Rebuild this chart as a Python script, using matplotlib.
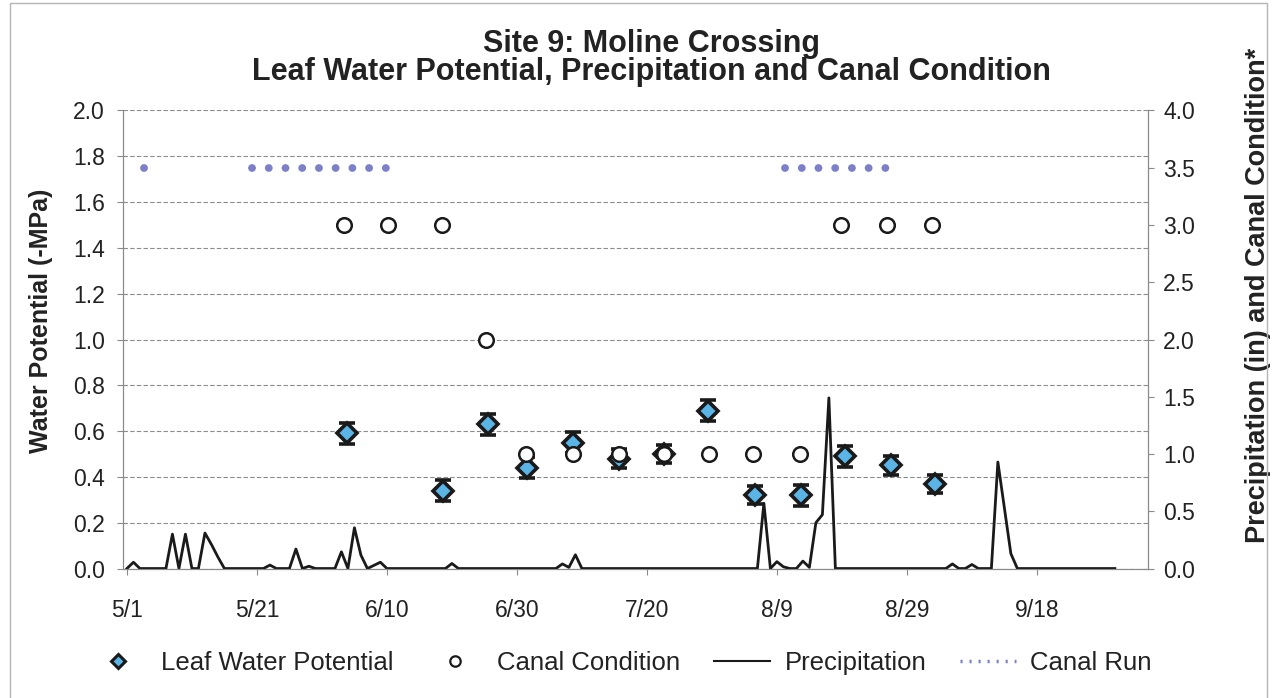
import matplotlib
matplotlib.use('Agg')
import matplotlib.pyplot as plt
from matplotlib.lines import Line2D
from matplotlib.patches import Rectangle

plt.rcParams['font.family'] = ['Liberation Sans', 'DejaVu Sans']

# x positions are days after 5/1
tick_days = [0, 20, 40, 60, 80, 100, 120, 140]
tick_labels = ['5/1', '5/21', '6/10', '6/30', '7/20', '8/9', '8/29', '9/18']

# leaf water potential (-MPa), left axis
lwp_days = [33.8, 48.7, 55.6, 61.6, 68.6, 75.7, 82.6, 89.4, 96.6, 103.7, 110.5, 117.5, 124.3]
lwp = [0.59, 0.34, 0.63, 0.44, 0.55, 0.48, 0.50, 0.69, 0.32, 0.32, 0.49, 0.45, 0.37]
lwp_err = [0.045, 0.045, 0.045, 0.045, 0.045, 0.04, 0.04, 0.045, 0.04, 0.045, 0.045, 0.04, 0.04]

# canal condition, right axis
canal_days = [33.4, 40.2, 48.5, 55.3, 61.4, 68.7, 75.7, 82.6, 89.5, 96.4, 103.5, 109.9, 116.9, 123.9]
canal = [3, 3, 3, 2, 1, 1, 1, 1, 1, 1, 1, 3, 3, 3]

# precipitation (in), right axis
precip_days = [0, 1, 2, 6, 7, 8, 9, 10, 11, 12, 13, 14, 15, 21, 22, 23, 25, 26, 27, 28, 29,
               32, 33, 34, 35, 36, 37, 39, 40, 49, 50, 51, 66, 67, 68, 69, 70, 97, 98, 99,
               100, 101, 102, 103, 104, 105, 106, 107, 108, 109, 126, 127, 128, 129, 130, 131,
               133, 134, 135, 136, 137, 152]
precip_in = [0, 0.055, 0, 0, 0.30, 0, 0.30, 0, 0, 0.31, 0.21, 0.10, 0, 0, 0.03, 0, 0, 0.17, 0, 0.02, 0,
             0, 0.146, 0, 0.356, 0.117, 0, 0.055, 0, 0, 0.044, 0, 0, 0.04, 0.01, 0.12, 0, 0, 0.57, 0,
             0.06, 0.015, 0, 0, 0.065, 0.01, 0.40, 0.47, 1.49, 0, 0, 0.04, 0, 0, 0.035, 0,
             0, 0.93, 0.53, 0.13, 0, 0]

# canal run periods (start day, end day), plotted at 3.5 on right axis
run_start = [2.6, 19.3, 101.2]
run_end = [3.4, 39.8, 117.0]
run_level = 3.5

fig = plt.figure(figsize=(12.75, 6.98), dpi=100)
ax = fig.add_axes([0.0965, 0.1855, 0.8039, 0.6562])
ax2 = ax.twinx()

ax.set_xlim(-0.6, 157.1)
ax.set_ylim(0, 2.0)
ax2.set_ylim(0, 4.0)

ax.set_yticks([i / 10 for i in range(0, 21, 2)])
ax.set_yticklabels([f'{i / 10:.1f}' for i in range(0, 21, 2)])
ax2.set_yticks([i / 2 for i in range(9)])
ax2.set_yticklabels([f'{i / 2:.1f}' for i in range(9)])
ax.set_xticks(tick_days)
ax.set_xticklabels(tick_labels)

ax.yaxis.grid(True, color='#8c8c8c', linestyle=(0, (4, 2)), linewidth=0.8)
ax.set_axisbelow(True)

for a in (ax, ax2):
    a.spines['top'].set_visible(False)
    for s in ('left', 'right', 'bottom'):
        a.spines[s].set_color('#8a8a8a')
        a.spines[s].set_linewidth(0.8)
ax.tick_params(axis='y', length=4, color='#8a8a8a', pad=9, labelsize=16.5, labelcolor='#222222')
ax2.tick_params(axis='y', length=4, color='#8a8a8a', pad=7, labelsize=16.5, labelcolor='#222222')
ax.tick_params(axis='x', length=4, color='#8a8a8a', pad=18, labelsize=16.5, labelcolor='#222222')

# leaf water potential with error bars
ax.errorbar(lwp_days, lwp, yerr=lwp_err, fmt='D', markersize=10.5, markerfacecolor='#5ab4e5',
            markeredgecolor='#1a1a1a', markeredgewidth=2.6, ecolor='#1a1a1a', elinewidth=1.6,
            capsize=6, capthick=2.2, zorder=3)

# precipitation
ax2.plot(precip_days, precip_in, color='#1a1a1a', linewidth=2.0, zorder=2)

# canal condition
ax2.plot(canal_days, canal, linestyle='none', marker='o', markersize=10.5,
         markerfacecolor='white', markeredgecolor='#1a1a1a', markeredgewidth=1.8, zorder=4)

# canal run
for s, e in zip(run_start, run_end):
    ax2.plot([s, e], [run_level, run_level], color='#7b80c8', linewidth=5.6,
             linestyle=(0, (0.01, 2.14)), dash_capstyle='round', zorder=3)

ax.set_ylabel('Water Potential (-MPa)', fontsize=18, fontweight='bold', color='#222222')
ax.yaxis.set_label_coords(-0.068, 0.54)
ax2.set_ylabel('Precipitation (in) and Canal Condition*', fontsize=19.5, fontweight='bold',
               color='#222222')
ax2.yaxis.set_label_coords(1.095, 0.597)

fig.text(0.511, 0.926, 'Site 9: Moline Crossing', ha='center', va='baseline',
         fontsize=22, fontweight='bold', color='#222222')
fig.text(0.511, 0.886, 'Leaf Water Potential, Precipitation and Canal Condition', ha='center',
         va='baseline', fontsize=22, fontweight='bold', color='#222222')

handles = [
    Line2D([], [], linestyle='none', marker='D', markersize=7.5, markerfacecolor='#5ab4e5',
           markeredgecolor='#1a1a1a', markeredgewidth=2.2),
    Line2D([], [], linestyle='none', marker='o', markersize=7.5, markerfacecolor='white',
           markeredgecolor='#1a1a1a', markeredgewidth=1.6),
    Line2D([], [], color='#1a1a1a', linewidth=1.5),
    Line2D([], [], color='#7b80c8', linewidth=2.5, linestyle=(0, (0.6, 2))),
]
labels = ['Leaf Water Potential', 'Canal Condition', 'Precipitation', 'Canal Run']
fig.legend(handles, labels, loc='center', bbox_to_anchor=(0.487, 0.05), ncol=4, frameon=False,
           fontsize=18.5, handlelength=2.2, handletextpad=0.55, columnspacing=1.3,
           labelcolor='#222222')

fig.patches.append(Rectangle((0.008, -0.01), 0.986, 1.005, transform=fig.transFigure,
                             fill=False, edgecolor='#b5b5b5', linewidth=1))

fig.savefig('out.png', dpi=100)
